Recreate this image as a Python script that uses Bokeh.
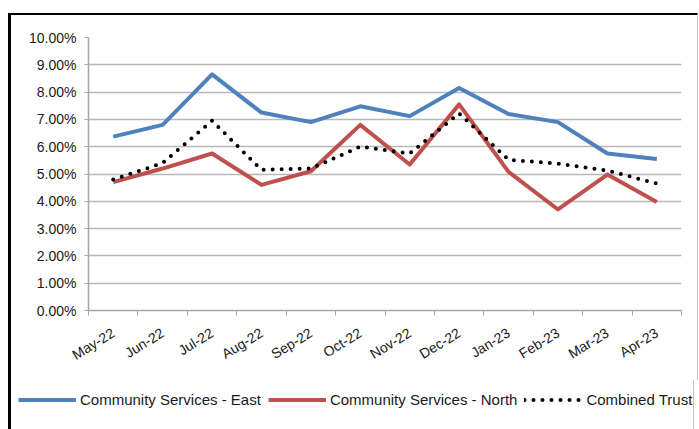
from bokeh.plotting import figure
from bokeh.models import FixedTicker, Legend, LegendItem, PrintfTickFormatter, ColumnDataSource
from bokeh.embed import file_html
from bokeh.resources import INLINE

months = ["May-22", "Jun-22", "Jul-22", "Aug-22", "Sep-22", "Oct-22",
          "Nov-22", "Dec-22", "Jan-23", "Feb-23", "Mar-23", "Apr-23"]
east = [6.37, 6.80, 8.65, 7.25, 6.90, 7.48, 7.12, 8.15, 7.20, 6.90, 5.75, 5.55]
north = [4.70, 5.20, 5.75, 4.60, 5.10, 6.80, 5.35, 7.55, 5.08, 3.70, 4.98, 3.97]
combined = [4.80, 5.40, 6.95, 5.15, 5.20, 6.00, 5.75, 7.22, 5.52, 5.38, 5.13, 4.65]
series_names = ["Community Services - East", "Community Services - North", "Combined Trust"]
y_ticks = list(range(0, 11))

xs = [i + 0.5 for i in range(len(months))]
src = ColumnDataSource(dict(x=xs, east=east, north=north, combined=combined))

FONT = "Liberation Sans"
styles = [dict(line_color="#4f81bd", line_width=4, line_join="round"),
          dict(line_color="#c0504d", line_width=4, line_join="round"),
          dict(line_color="black", line_width=4, line_dash="0 9", line_cap="round")]
cols = ["east", "north", "combined"]

p = figure(frame_width=593, frame_height=273,
           min_border_left=77, min_border_right=16, min_border_top=22, min_border_bottom=70,
           x_range=(0, len(months)), y_range=(0, 10),
           output_backend="svg", toolbar_location=None, margin=(13, 0, 0, 8))
p.styles = {"border-top": "2px solid #000", "border-left": "3px solid #000",
            "border-right": "1px solid #c4c4c4"}
p.outline_line_color = None
p.background_fill_color = "white"
p.border_fill_color = "white"

for col, st in zip(cols, styles):
    p.line("x", col, source=src, **st)

# x axis: labels at category centres, tick marks at category boundaries
xa = p.xaxis[0]
xa.ticker = FixedTicker(ticks=xs, minor_ticks=list(range(len(months) + 1)))
xa.major_label_overrides = {x: m for x, m in zip(xs, months)}
xa.major_tick_out = 0
xa.major_tick_in = 0
xa.minor_tick_out = 5
xa.minor_tick_in = 0
xa.minor_tick_line_color = "#a6a6a6"
xa.axis_line_color = "#a6a6a6"
xa.axis_line_width = 1.5
xa.major_label_orientation = 0.55
xa.major_label_standoff = 16
xa.major_label_text_font = FONT
xa.major_label_text_font_size = "14px"
xa.major_label_text_color = "#1a1a1a"

ya = p.yaxis[0]
ya.ticker = FixedTicker(ticks=y_ticks, minor_ticks=[])
ya.formatter = PrintfTickFormatter(format="%.2f%%")
ya.major_tick_out = 4
ya.major_tick_in = 0
ya.major_tick_line_color = "#a6a6a6"
ya.axis_line_color = "#a6a6a6"
ya.axis_line_width = 1.5
ya.major_label_standoff = 8
ya.major_label_text_font = FONT
ya.major_label_text_font_size = "14px"
ya.major_label_text_color = "#1a1a1a"

p.xgrid.visible = False
p.ygrid.ticker = FixedTicker(ticks=y_ticks)
p.ygrid.grid_line_color = "#b8b8b8"
p.ygrid.grid_line_width = 1.5

# legend strip below the chart (separate root, so its frame spans the full width);
# the series are drawn out of its visible range so only the legend shows
lg = figure(width=686, height=49, min_border=0, x_range=(0, 1), y_range=(50, 51),
            output_backend="svg", toolbar_location=None, margin=(0, 0, 0, 8))
lg.styles = {"border-left": "3px solid #000", "border-right": "1px solid #c4c4c4"}
lg.axis.visible = False
lg.grid.visible = False
lg.outline_line_color = None
lg.background_fill_color = "white"
lg.border_fill_color = "white"
items = []
for name, col, st in zip(series_names, cols, styles):
    r = lg.line("x", col, source=src, **st)
    items.append(LegendItem(label=name, renderers=[r]))
legend = Legend(items=items, orientation="horizontal", location=(7, 21), padding=0, margin=0,
                spacing=7, label_standoff=4, glyph_width=58, glyph_height=15, label_height=15,
                label_text_font=FONT, label_text_font_size="15px", label_text_color="#1a1a1a",
                border_line_color=None, background_fill_alpha=0)
lg.add_layout(legend, "center")

open("out.html", "w").write(file_html([p, lg], INLINE))
